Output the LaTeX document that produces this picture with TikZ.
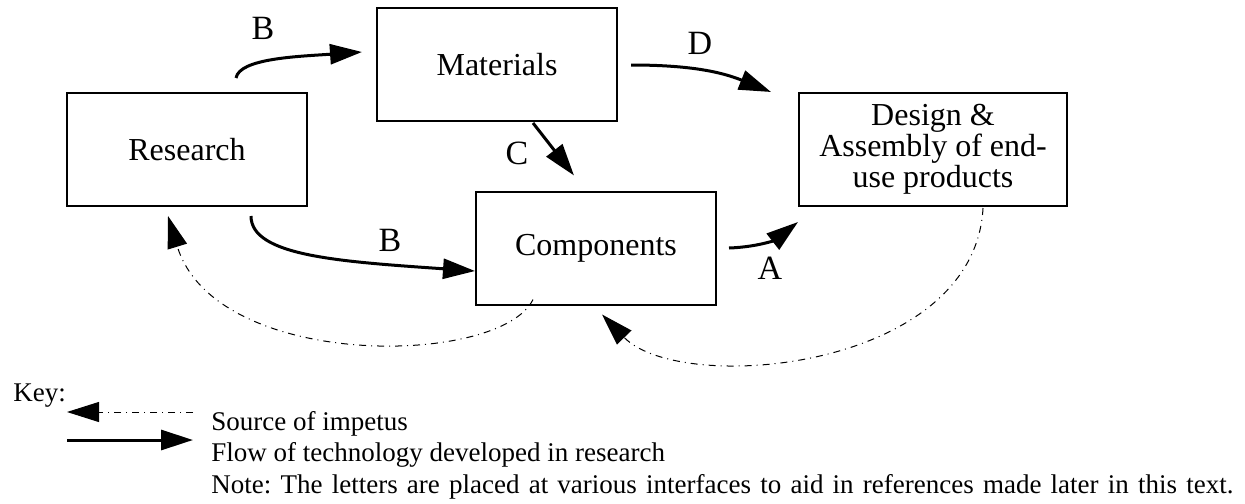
\documentclass[tikz,border=0pt]{standalone}
\usepackage{fontspec}
\setmainfont{Liberation Serif}
\usetikzlibrary{arrows.meta,calc}
\frenchspacing

\begin{document}
\begin{tikzpicture}[x=0.5pt,y=0.5pt,
  box/.style={draw,line width=1pt,minimum width=120pt,minimum height=56.5pt,
    inner sep=0pt,align=center,font=\fontsize{16}{15.5}\selectfont},
  flow/.style={-{Triangle[length=16pt,width=10pt]},line width=1.5pt},
  impetus/.style={-{Triangle[length=16pt,width=10pt]},line width=0.5pt,
    dash pattern=on 3.5pt off 2.5pt on 0.5pt off 2.5pt},
  lbl/.style={font=\fontsize{17}{20}\selectfont,inner sep=0pt},
  keytext/.style={anchor=base west,inner sep=0pt,font=\fontsize{13.5}{16}\selectfont}]
  \useasboundingbox (0,0) rectangle (1245,-503);
  % boxes
  \node[box] (research) at (187,-149.5) {Research};
  \node[box] (materials) at (497,-64.5) {Materials};
  \node[box] (components) at (596,-248) {Components};
  \node[box,minimum width=134pt] (design) at (933,-149.5)
    {Design \&\\Assembly of end-\\use products};
  % flow of technology
  \draw[flow] ($(research.north)+(49,14)$)
    to[out=80,in=184,out distance=10pt,in distance=32pt] ($(materials.west)+(-14,12.5)$);
  \draw[flow] ($(research.south)+(64,-9)$)
    to[out=-90,in=176,out distance=20pt,in distance=68pt] ($(components.west)+(0,-23)$);
  \draw[flow] ($(materials.south)+(36,-1)$) -- ($(components.north)+(-22,15)$);
  \draw[flow] ($(materials.east)+(13,-0.5)$) to[out=0,in=158] ($(design.north west)+(-27,0)$);
  \draw[flow] ($(components.east)+(12,0)$) to[out=2,in=218] ($(design.south west)+(0,-15)$);
  \node[lbl] (labelBtop) at (263,-28) {B};
  \node[lbl] (labelBlow) at (390,-240) {B};
  \node[lbl] (labelC) at (517,-153) {C};
  \node[lbl] (labelD) at (700,-43) {D};
  \node[lbl] (labelA) at (770,-268) {A};
  % source of impetus
  \draw[impetus] ($(design.south)+(50,-1)$)
    to[out=-93,in=-46,out distance=81.5pt,in distance=56.5pt] ($(components.south)+(6,-9)$);
  \draw[impetus] ($(components.south)+(-63,6)$)
    to[out=-116,in=-73,out distance=37.5pt,in distance=81pt] ($(research.south)+(-19,-9)$);
  % key
  \node[keytext] (key) at (13,-401) {Key:};
  \coordinate (impL) at (67,-412);
  \coordinate (impR) at (193,-412);
  \coordinate (flowL) at (67,-440);
  \coordinate (flowR) at (193,-440);
  \draw[impetus] (impR) -- (impL);
  \draw[flow] (flowL) -- (flowR);
  \node[keytext] (keyimp) at (211,-430) {Source of impetus};
  \node[keytext] (keyflow) at (211,-461) {Flow of technology developed in research};
  \node[keytext] (note) at (211,-493) {\makebox[511pt][s]{Note: The letters are placed at various interfaces to aid in references made later in this text.}};
\end{tikzpicture}
\end{document}
